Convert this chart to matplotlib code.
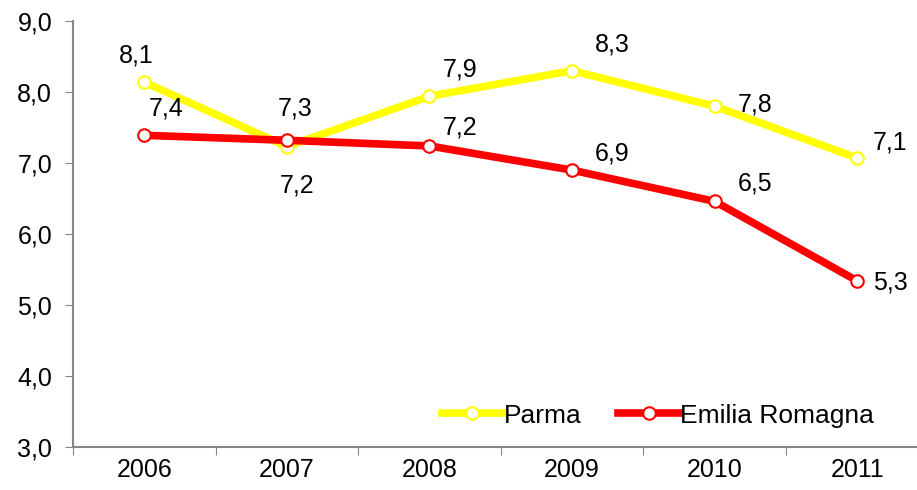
import matplotlib.pyplot as plt
import numpy as np

plt.rcParams['font.family'] = ['Liberation Sans', 'DejaVu Sans']

# Dati
anni = ['2006', '2007', '2008', '2009', '2010', '2011']
parma = [8.14, 7.23, 7.94, 8.30, 7.80, 7.07]
emilia = [7.39, 7.32, 7.24, 6.90, 6.46, 5.34]

# offset etichette (punti)
off_parma = [(-6, 19), (7, -28), (22, 19), (29, 19), (29, 1), (24, 11)]
off_emilia = [(16, 19), (6, 23), (22, 13), (29, 12), (29, 13), (24, -1)]

x = np.arange(len(anni))
fig = plt.figure(figsize=(9.17, 4.9), dpi=100)
ax = fig.add_axes([73 / 917, 43 / 490, 855.5 / 917, 426 / 490])

ax.plot(x, parma, color='#ffff00', lw=5.5, marker='o', ms=9,
        mfc='white', mec='#ffff00', mew=1.5, label='Parma', zorder=3)
ax.plot(x, emilia, color='#ff0000', lw=5.5, marker='o', ms=9,
        mfc='white', mec='#ff0000', mew=1.5, label='Emilia Romagna', zorder=4)

for xi, v, o in zip(x, parma, off_parma):
    ax.annotate(f'{v:.1f}'.replace('.', ','), (xi, v), xytext=o,
                textcoords='offset points', ha='center', va='center', fontsize=18)
for xi, v, o in zip(x, emilia, off_emilia):
    ax.annotate(f'{v:.1f}'.replace('.', ','), (xi, v), xytext=o,
                textcoords='offset points', ha='center', va='center', fontsize=18)

ax.set_xlim(-0.5, 5.5)
ax.set_ylim(3, 9)
ax.set_yticks(np.arange(3, 9.5, 1))
ax.set_yticklabels([f'{t:.1f}'.replace('.', ',') for t in np.arange(3, 9.5, 1)])

ax.set_xticks(np.arange(-0.5, 6, 1))
ax.set_xticklabels([])
ax.set_xticks(x, minor=True)
ax.set_xticklabels(anni, minor=True)
ax.tick_params(axis='x', which='minor', length=0, pad=8, labelsize=18)
ax.tick_params(axis='x', which='major', length=6, color='#868686', direction='out')
ax.tick_params(axis='y', length=6, color='#868686', labelsize=18, pad=9)

for s in ['top', 'right']:
    ax.spines[s].set_visible(False)
for s in ['left', 'bottom']:
    ax.spines[s].set_color('#868686')
    ax.spines[s].set_linewidth(1.5)

ax.legend(loc='lower left', bbox_to_anchor=(0.403, -0.01), ncol=2, frameon=False,
          fontsize=19, handlelength=2.3, handletextpad=0.05, columnspacing=1.4)

plt.savefig('out.png')
